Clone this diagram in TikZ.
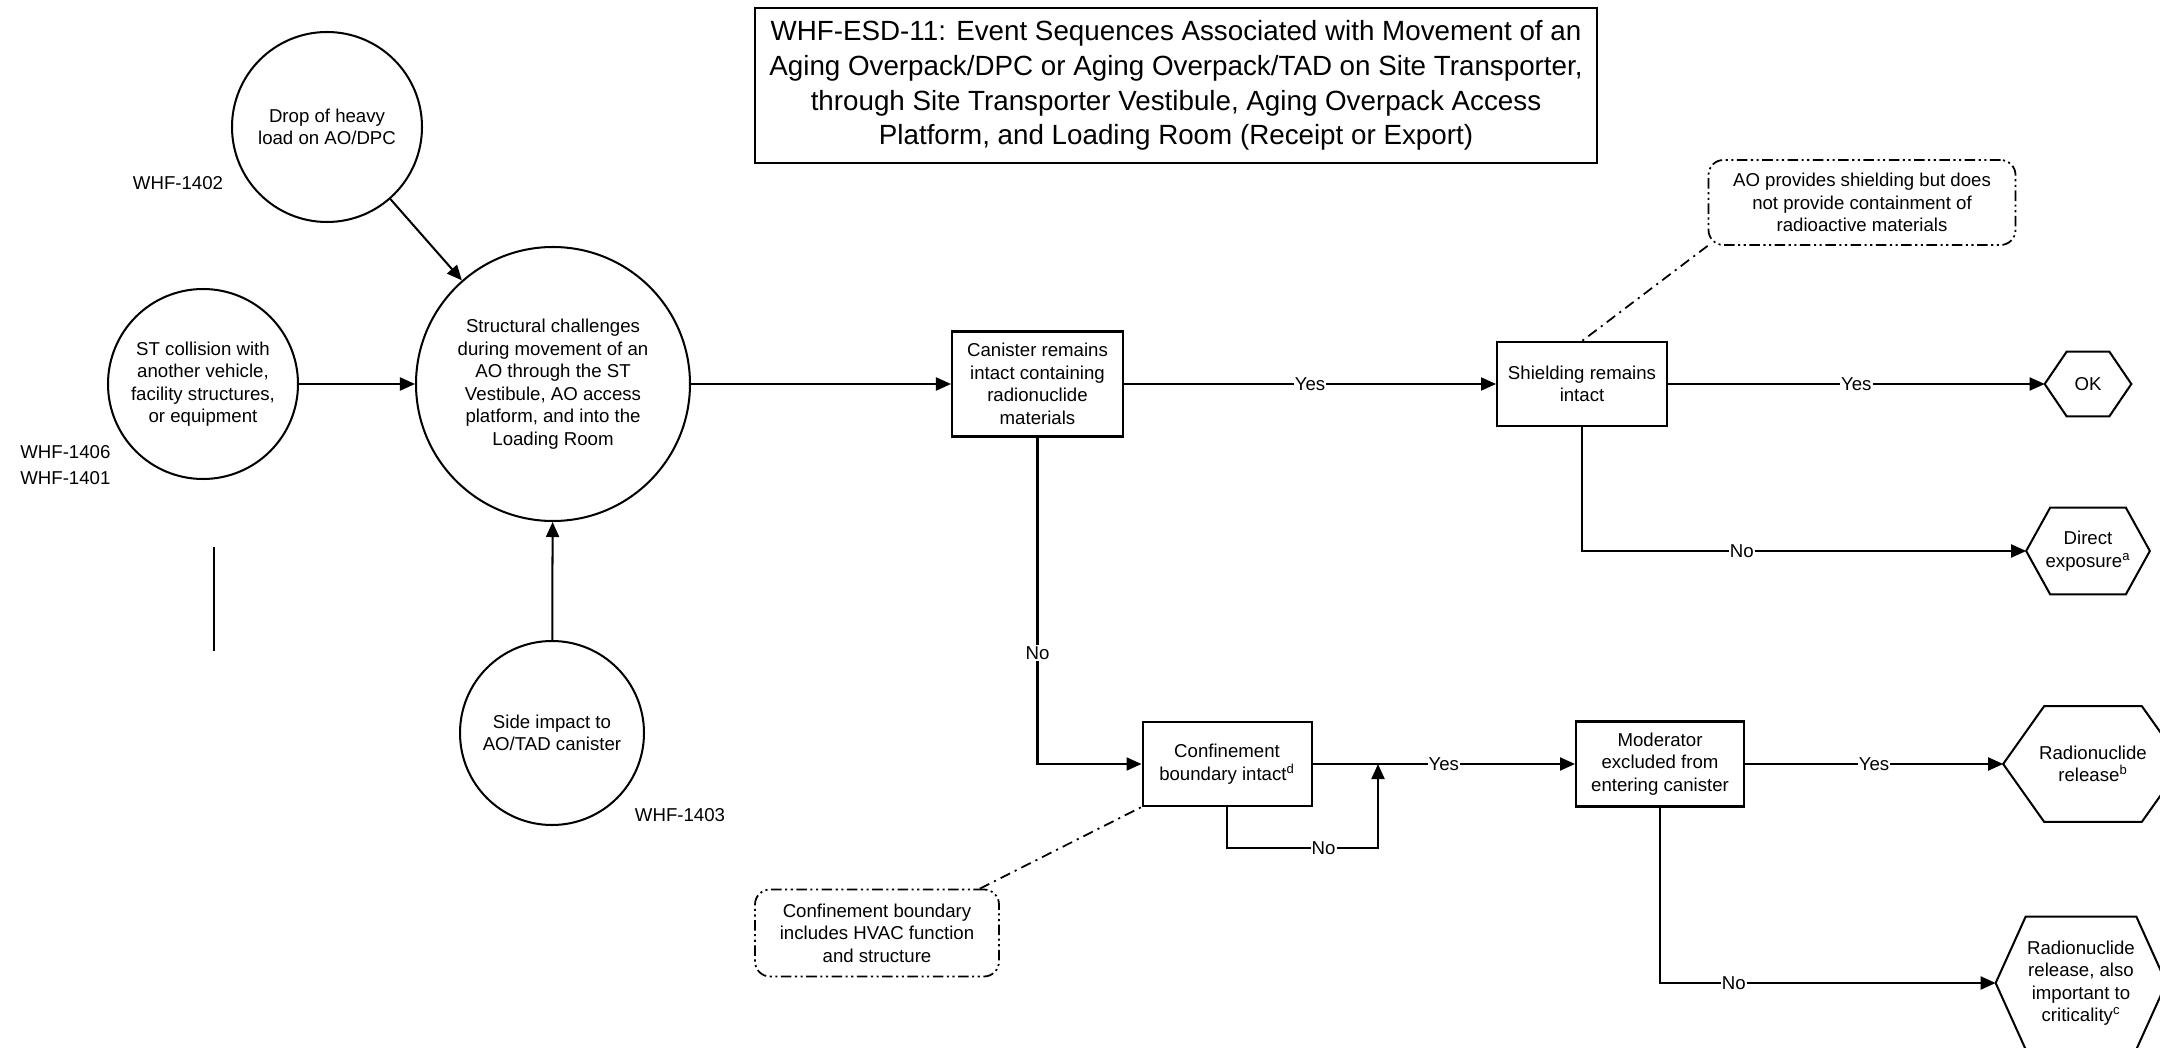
\documentclass[tikz,border=0pt]{standalone}
\usepackage{fontspec}
\setmainfont{Liberation Sans}
\usetikzlibrary{arrows.meta}

\tikzset{
	txt/.style={font=\fontsize{10.6}{12.8}\selectfont},
	event/.style={draw, circle, line width=1.15pt, inner sep=0pt, align=center, txt},
	box/.style={draw, rectangle, line width=1.15pt, inner sep=0pt, align=center, txt},
	endstate/.style={rectangle, inner sep=0pt, align=center, txt},
	note/.style={draw, rectangle, rounded corners=0.3cm, line width=1pt, dash pattern=on 6pt off 2pt on 1.2pt off 2pt on 1.2pt off 2pt, inner sep=0pt, align=center, txt},
	tag/.style={inner sep=0pt, txt},
	flow/.style={line width=1.15pt, -{Triangle[length=3mm, width=2.6mm]}},
	branch/.style={fill=white, inner sep=0.6pt, txt},
	notelink/.style={line width=1pt, dash pattern=on 6pt off 3pt on 1.2pt off 3pt},
}

\begin{document}
\begin{tikzpicture}
			\useasboundingbox (0,0) rectangle (43.2,-20.96);

			\node[draw, rectangle, line width=1.15pt, inner sep=0pt, align=center, minimum width=16.84cm, minimum height=3.1cm, font=\fontsize{15.8}{19.8}\selectfont] (title) at (23.52,-1.71) {WHF-ESD-11: Event Sequences Associated with Movement of an\\Aging Overpack/DPC or Aging Overpack/TAD on Site Transporter,\\through Site Transporter Vestibule, Aging Overpack Access\\Platform, and Loading Room (Receipt or Export)};

			\node[event, minimum size=3.8cm] (drop) at (6.54,-2.54) {Drop of heavy\\load on AO/DPC};
			\node[event, minimum size=3.8cm] (st) at (4.06,-7.68) {ST collision with\\another vehicle,\\facility structures,\\or equipment};
			\node[event, minimum size=5.48cm] (struct) at (11.06,-7.68) {Structural challenges\\during movement of an\\AO through the ST\\Vestibule, AO access\\platform, and into the\\Loading Room};
			\node[event, minimum size=3.68cm] (side) at (11.04,-14.66) {Side impact to\\AO/TAD canister};

			\node[tag] (whf1402) at (3.56,-3.66) {WHF-1402};
			\node[tag, anchor=west, align=left, font=\fontsize{10.6}{14.7}\selectfont] (whf1406) at (0.4,-9.3) {WHF-1406\\WHF-1401};
			\node[tag] (whf1403) at (13.6,-16.3) {WHF-1403};
			\coordinate (m1) at (4.28,-10.94);
			\coordinate (m2) at (4.28,-13.02);

			\node[box, minimum width=3.42cm, minimum height=2.1cm] (canister) at (20.75,-7.68) {Canister remains\\intact containing\\radionuclide\\materials};
			\node[box, minimum width=3.4cm, minimum height=1.68cm] (shield) at (31.64,-7.68) {Shielding remains\\intact};
			\node[box, minimum width=3.38cm, minimum height=1.68cm] (conf) at (24.54,-15.28) {Confinement\\boundary intact\textsuperscript{d}};
			\node[box, minimum width=3.36cm, minimum height=1.7cm] (mod) at (33.2,-15.28) {Moderator\\excluded from\\entering canister};

			\node[endstate, minimum width=1.72cm, minimum height=1.28cm] (ok) at (41.76,-7.68) {OK};
			\node[endstate, minimum width=2.46cm, minimum height=1.72cm] (direct) at (41.76,-11.02) {Direct\\exposure\textsuperscript{a}};
			\node[endstate, minimum width=3.58cm, minimum height=2.3cm] (rel) at (41.86,-15.28) {Radionuclide\\release\textsuperscript{b}};
			\node[endstate, minimum width=3.4cm, minimum height=2.64cm] (crit) at (41.62,-19.66) {Radionuclide\\release, also\\important to\\criticality\textsuperscript{c}};

			\node[note, minimum width=6.14cm, minimum height=1.7cm] (shieldnote) at (37.24,-4.05) {AO provides shielding but does\\not provide containment of\\radioactive materials};
			\node[note, minimum width=4.88cm, minimum height=1.74cm] (confnote) at (17.54,-18.66) {Confinement boundary\\includes HVAC function\\and structure};

			\coordinate (jn) at (27.56,-15.28);
			\coordinate (loopc) at (27.56,-16.96);

			\foreach \n/\d in {ok/0.44, direct/0.48, rel/0.82, crit/0.6}
				\draw[line width=1.15pt] (\n.west) -- ([xshift=\d cm]\n.north west) -- ([xshift=-\d cm]\n.north east) -- (\n.east) -- ([xshift=-\d cm]\n.south east) -- ([xshift=\d cm]\n.south west) -- cycle;

			\path (drop) edge[flow] (struct);
			\path (st) edge[flow] (struct);
			\path (side) edge[flow] (struct);
			\path (struct) edge[flow] (canister);
			\path (canister) edge[flow] node[branch] {Yes} (shield);
			\path (shield) edge[flow] node[branch] {Yes} (ok);
			\draw[flow] (shield.south) |- node[branch, pos=0.68] {No} (direct.west);
			\draw[flow] (canister.south) |- node[branch, pos=0.33] {No} (conf.west);
			\path (conf) edge[flow] node[branch] {Yes} (mod);
			\draw[flow] (conf.south) |- node[branch, pos=0.82] {No} (loopc) -- (jn);
			\path (mod) edge[flow] node[branch] {Yes} (rel);
			\draw[flow] (mod.south) |- node[branch, pos=0.61] {No} (crit.west);

			\draw[notelink] (shieldnote.south west) -- (shield.north);
			\draw[notelink] ([xshift=-0.4cm]confnote.north east) -- (conf.south west);
			\draw[line width=0.9pt] (m1) -- (m2);

		\end{tikzpicture}
\end{document}
